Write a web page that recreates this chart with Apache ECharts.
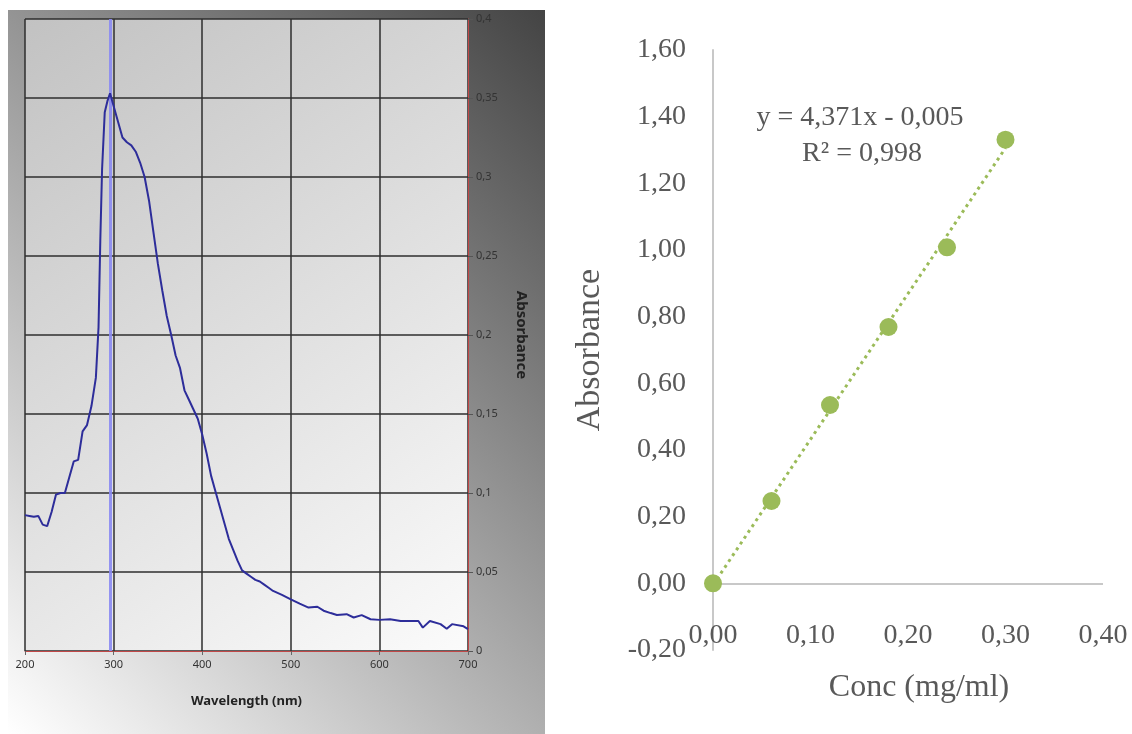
<!DOCTYPE html>
<html>
<head>
<meta charset="utf-8">
<script src="https://cdn.jsdelivr.net/npm/echarts@6/dist/echarts.min.js"></script>
<style>
  html, body { margin: 0; padding: 0; background: #fff; }
  #main { width: 1132px; height: 734px; }
</style>
</head>
<body>
<div id="main"></div>
<script>
// spectrum (left panel)
var wavelengths = [200, 205, 210, 215, 220, 225, 230, 235, 240, 245, 250, 255, 260, 265, 270, 275, 280, 283, 285, 287,
  290, 293, 296, 300, 305, 310, 315, 320, 325, 330, 335, 340, 345, 350, 355, 360, 365, 370, 375, 380,
  385, 390, 395, 400, 405, 410, 415, 420, 425, 430, 435, 440, 445, 450, 455, 460, 465, 470, 475, 480,
  490, 500, 510, 520, 530, 537, 545, 552, 563, 571, 580, 590, 600, 612, 624, 635, 644, 649, 657, 669,
  676, 682, 695, 700];
var absorbance = [0.086, 0.0855, 0.085, 0.0855, 0.080, 0.079, 0.088, 0.099, 0.100, 0.100, 0.110, 0.120, 0.121, 0.139, 0.143, 0.155, 0.173, 0.205, 0.260, 0.305,
  0.341, 0.348, 0.353, 0.345, 0.335, 0.325, 0.322, 0.320, 0.316, 0.309, 0.300, 0.285, 0.265, 0.245, 0.228, 0.212, 0.200, 0.187, 0.179, 0.165,
  0.159, 0.153, 0.147, 0.137, 0.125, 0.111, 0.101, 0.091, 0.081, 0.071, 0.064, 0.057, 0.051, 0.049, 0.047, 0.045, 0.044, 0.042, 0.040, 0.038,
  0.0355, 0.0327, 0.030, 0.0275, 0.028, 0.0255, 0.024, 0.0228, 0.0233, 0.0212, 0.0227, 0.0201, 0.0197, 0.0201, 0.019, 0.019, 0.019, 0.0148, 0.019, 0.017,
  0.0141, 0.017, 0.0156, 0.0139];
var peakMarker = 296;

// calibration (right panel)
var conc = [0, 0.06, 0.12, 0.18, 0.24, 0.30];
var calAbs = [0, 0.247, 0.535, 0.769, 1.008, 1.331];
var trendX = [0, 0.30];
var trendY = [-0.005, 1.306];
var eqText = 'y = 4,371x - 0,005';
var r2Text = 'R² = 0,998';

var chart = echarts.init(document.getElementById('main'));

var specData = wavelengths.map(function (w, i) { return [w, absorbance[i]]; });
var calData = conc.map(function (c, i) { return [c, calAbs[i]]; });
var trendData = trendX.map(function (x, i) { return [x, trendY[i]]; });

var comma = function (v) { return String(v).replace('.', ','); };
var comma2 = function (v) { return v.toFixed(2).replace('.', ','); };
var serif = 'Liberation Serif';
var smallFont = 'Noto Sans';

// frame shading runs from bottom-left (white) to top-right (dark)
var frameFill = new echarts.graphic.LinearGradient(8, 734, 638, 104, [
  { offset: 0, color: '#ffffff' },
  { offset: 0.5, color: '#a2a2a2' },
  { offset: 1, color: '#444444' }
], true);

var option = {
  animation: false,
  graphic: [
    {
      type: 'rect',
      z: -10,
      shape: { x: 8, y: 10, width: 537, height: 724 },
      style: { fill: frameFill }
    },
    {
      type: 'text', z: 100, x: 860, y: 118,
      style: { text: eqText, font: '28px "Liberation Serif"', fill: '#595959', align: 'center', verticalAlign: 'middle' }
    },
    {
      type: 'text', z: 100, x: 862, y: 154,
      style: { text: r2Text, font: '28px "Liberation Serif"', fill: '#595959', align: 'center', verticalAlign: 'middle' }
    }
  ],
  grid: [
    {
      left: 25, top: 19, width: 443, height: 632,
      show: true, borderWidth: 0,
      backgroundColor: new echarts.graphic.LinearGradient(0, 0, 1, 1, [
        { offset: 0, color: '#c2c2c2' },
        { offset: 1, color: '#fbfbfb' }
      ])
    },
    { left: 713, top: 50, width: 390, height: 600 }
  ],
  xAxis: [
    {
      gridIndex: 0, type: 'value', min: 200, max: 700, interval: 100,
      name: 'Wavelength (nm)', nameLocation: 'middle', nameGap: 44,
      nameTextStyle: { fontFamily: smallFont, fontSize: 13, fontWeight: 'bold', color: '#222' },
      axisLine: { show: true, lineStyle: { color: '#c04848', width: 1 } },
      axisTick: { show: true, length: 4, lineStyle: { color: '#666' } },
      axisLabel: { margin: 8, fontFamily: smallFont, fontSize: 11, color: '#333' },
      splitLine: { show: true, lineStyle: { color: '#2e2e2e', width: 1.5 } }
    },
    {
      gridIndex: 1, type: 'value', min: 0, max: 0.4, interval: 0.1,
      position: 'bottom',
      name: 'Conc (mg/ml)', nameLocation: 'middle', nameGap: 22,
      nameTextStyle: { fontFamily: serif, fontSize: 32, color: '#595959', padding: [0, 0, 0, 22] },
      axisLine: { show: false, onZero: false },
      axisTick: { show: false },
      axisLabel: { margin: -28, fontFamily: serif, fontSize: 28, color: '#595959', formatter: comma2 },
      splitLine: { show: false }
    }
  ],
  yAxis: [
    {
      gridIndex: 0, type: 'value', min: 0, max: 0.4, interval: 0.05,
      position: 'right',
      name: 'Absorbance', nameLocation: 'middle', nameGap: 46, nameRotate: -90,
      nameTextStyle: { fontFamily: smallFont, fontSize: 15, fontWeight: 'bold', color: '#222' },
      axisLine: { show: true, lineStyle: { color: '#c04848', width: 1 } },
      axisTick: { show: true, length: 5, lineStyle: { color: '#555' } },
      axisLabel: { margin: 8, fontFamily: smallFont, fontSize: 11, color: '#333', formatter: comma },
      splitLine: { show: true, lineStyle: { color: '#2e2e2e', width: 1.5 } }
    },
    {
      gridIndex: 1, type: 'value', min: -0.2, max: 1.6, interval: 0.2,
      name: 'Absorbance', nameLocation: 'middle', nameGap: 106,
      nameTextStyle: { fontFamily: serif, fontSize: 34, color: '#595959' },
      axisLine: { show: true, onZero: false, lineStyle: { color: '#c8c8c8', width: 2 } },
      axisTick: { show: false },
      axisLabel: { margin: 27, fontFamily: serif, fontSize: 28, color: '#595959', formatter: comma2 },
      splitLine: { show: false }
    }
  ],
  series: [
    {
      type: 'line', xAxisIndex: 0, yAxisIndex: 0,
      data: specData, showSymbol: false, z: 5,
      lineStyle: { color: '#2d2d9a', width: 2 },
      markLine: {
        silent: true, symbol: 'none', label: { show: false },
        lineStyle: { color: '#8a8af2', width: 3, type: 'solid', opacity: 0.9 },
        data: [{ xAxis: peakMarker }]
      }
    },
    {
      type: 'line', xAxisIndex: 1, yAxisIndex: 1,
      data: trendData, showSymbol: false, z: 3,
      lineStyle: { color: '#9bbb59', width: 3, type: [3, 4] }
    },
    {
      type: 'scatter', xAxisIndex: 1, yAxisIndex: 1,
      data: calData, symbolSize: 18, z: 6,
      itemStyle: { color: '#9bbb59', opacity: 1 },
      markLine: {
        silent: true, symbol: 'none', label: { show: false },
        lineStyle: { color: '#c8c8c8', width: 2, type: 'solid' },
        data: [{ yAxis: 0 }]
      }
    }
  ]
};

chart.setOption(option);
</script>
</body>
</html>
